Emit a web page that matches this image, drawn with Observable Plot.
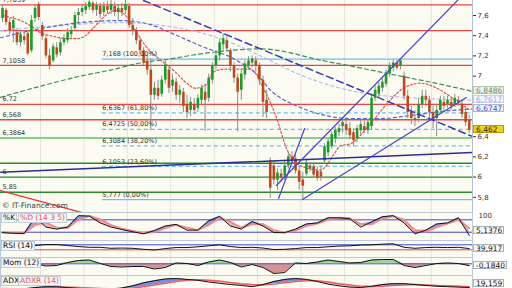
<!DOCTYPE html>
<html><head><meta charset="utf-8">
<script src="https://cdn.jsdelivr.net/npm/d3@7"></script>
<script src="https://cdn.jsdelivr.net/npm/@observablehq/plot@0.6"></script>
<style>
html,body{margin:0;padding:0;background:#fff;}
#chart{position:relative;width:512px;height:288px;overflow:hidden;font-family:"DejaVu Sans",Verdana,sans-serif;}
.pane{position:absolute;left:0;}
.pane svg{display:block;}
.tag{position:absolute;font-size:7.5px;line-height:8px;padding:0 1px;background:#f3f5f7;border:1px solid #c4ccd6;white-space:nowrap;color:#111;}
.vbox{position:absolute;left:473px;height:8px;font-size:7.5px;line-height:7px;padding-left:2px;box-sizing:border-box;border:1px solid #a8b0b8;background:#f6f7f8;color:#222;white-space:nowrap;}
.credit{position:absolute;left:2px;top:201px;font-size:7.5px;color:#444;white-space:nowrap;}
</style></head><body><div id="chart"></div>
<script>
// ---------- DATA ----------
const opens = [7.57,7.65,7.53,7.47,7.43,7.33,7.39,7.42,7.25,7.57,7.71,7.50,7.37,7.20,7.15,7.28,7.23,7.33,7.35,7.41,
7.47,7.60,7.63,7.65,7.68,7.72,7.65,7.69,7.63,7.69,7.65,7.69,7.63,7.67,7.65,7.69,7.50,7.45,7.35,7.25,
7.15,7.06,6.81,6.88,6.82,6.96,7.06,6.90,6.94,6.81,6.84,6.72,6.66,6.72,6.68,6.76,6.84,6.78,6.96,7.10,
7.20,7.31,7.35,7.25,7.10,6.98,6.86,7.01,7.10,7.13,7.15,7.10,6.96,6.76,6.16,6.11,5.97,6.03,6.01,6.11,
6.20,6.18,6.06,5.97,6.03,6.11,6.10,6.06,6.05,6.16,6.24,6.30,6.38,6.44,6.50,6.52,6.48,6.44,6.38,6.46,
6.50,6.46,6.50,6.78,6.82,6.88,6.92,7.02,7.08,7.13,7.10,7.00,6.80,6.64,6.58,6.58,6.72,6.80,6.76,6.64,
6.58,6.66,6.74,6.72,6.74,6.72,6.76,6.72,6.64,6.56];
const closes = [7.67,7.53,7.45,7.55,7.33,7.41,7.35,7.22,7.55,7.67,7.58,7.39,7.20,7.10,7.29,7.21,7.33,7.37,7.43,7.45,
7.60,7.63,7.67,7.69,7.73,7.65,7.70,7.61,7.69,7.65,7.71,7.63,7.67,7.63,7.71,7.50,7.45,7.35,7.25,7.13,
7.06,6.81,6.88,6.80,6.96,7.11,6.88,6.96,6.81,6.86,6.70,6.64,6.74,6.66,6.78,6.88,6.76,6.98,7.10,7.20,
7.33,7.37,7.27,7.10,6.98,6.84,7.02,7.12,7.15,7.17,7.10,6.96,6.74,6.64,5.89,5.97,6.04,5.99,6.11,6.20,
6.16,6.06,5.95,5.91,6.14,6.08,6.02,5.99,6.00,6.30,6.35,6.42,6.46,6.48,6.54,6.46,6.41,6.36,6.48,6.52,
6.46,6.54,6.78,6.86,6.90,6.94,7.02,7.10,7.13,7.08,7.15,6.80,6.64,6.58,6.56,6.72,6.80,6.76,6.64,6.56,
6.66,6.76,6.70,6.76,6.70,6.78,6.74,6.62,6.54,6.462];
const highs = [7.70,7.67,7.57,7.59,7.47,7.45,7.45,7.45,7.60,7.70,7.73,7.53,7.40,7.27,7.32,7.33,7.37,7.41,7.47,7.49,
7.63,7.67,7.70,7.73,7.75,7.74,7.73,7.72,7.73,7.74,7.75,7.73,7.71,7.72,7.75,7.72,7.57,7.48,7.38,7.28,
7.20,7.17,6.94,6.96,7.00,7.15,7.10,7.02,6.98,6.91,6.88,6.81,6.79,6.78,6.82,6.91,6.92,7.02,7.13,7.25,
7.37,7.42,7.39,7.27,7.13,7.02,7.06,7.15,7.19,7.20,7.19,7.13,7.00,6.86,6.19,6.16,6.08,6.08,6.16,6.24,
6.25,6.22,6.10,6.05,6.18,6.14,6.13,6.10,6.11,6.33,6.38,6.45,6.49,6.52,6.59,6.57,6.54,6.48,6.51,6.56,
6.55,6.57,6.82,6.90,6.94,6.98,7.06,7.13,7.16,7.15,7.168,7.04,6.86,6.70,6.66,6.78,6.86,6.86,6.80,6.70,
6.72,6.80,6.80,6.80,6.78,6.82,6.80,6.76,6.68,6.61];
const lows = [7.53,7.50,7.41,7.33,7.30,7.29,7.31,7.20,7.23,7.53,7.55,7.35,7.17,7.06,7.13,7.18,7.20,7.30,7.32,7.37,
7.45,7.51,7.59,7.61,7.65,7.62,7.59,7.57,7.59,7.61,7.61,7.59,7.55,7.59,7.61,7.47,7.40,7.31,7.21,7.10,
7.01,6.46,6.76,6.76,6.79,6.92,6.83,6.84,6.76,6.73,6.64,6.58,6.60,6.62,6.64,6.71,6.45,6.74,6.92,7.06,
7.15,7.25,7.23,7.04,6.93,6.45,6.76,6.96,7.06,7.08,7.04,6.91,6.59,6.58,5.79,5.92,5.87,5.95,5.97,6.08,
6.12,6.03,5.87,5.777,6.01,6.05,5.99,5.96,5.96,6.14,6.20,6.28,6.33,6.40,6.43,6.41,6.37,6.30,6.34,6.42,
6.43,6.42,6.46,6.75,6.79,6.84,6.89,6.99,7.04,7.06,7.06,6.76,6.58,6.52,6.50,6.54,6.68,6.70,6.58,6.48,
6.40,6.62,6.66,6.68,6.66,6.69,6.70,6.58,6.50,6.43];

// horizontal levels
const redLevels = [7.7059, 7.45, 7.1058, 6.72, 6.568];
const redLabels = ["7,7059", "", "7,1058", "6,72", "6,568"];
const greenLevels = [6.3864, 6.137, 6.0, 5.85];
const greenLabels = ["6,3864", "", "6", "5,85"];
const fibValues = [7.168, 6.6367, 6.4725, 6.3084, 6.1053, 5.777];
const fibLabels = ["7,168 (100,00%)", "6,6367 (61,80%)", "6,4725 (50,00%)", "6,3084 (38,20%)", "6,1053 (23,60%)", "5,777 (0,00%)"];
const fibStart = 27.6;

// moving averages (bar index, value)
const maGreenIdx = [-0.55, 10.5, 21.6, 29.9, 38.1, 46.4, 54.7, 61.6, 71.3, 79.6, 85.1, 96.2, 110, 121, 129.9];
const maGreenVal = [6.79, 6.90, 7.00, 7.06, 7.13, 7.17, 7.22, 7.25, 7.27, 7.23, 7.18, 7.10, 7.00, 6.92, 6.8486];
const maBlueIdx = [-0.55, 10.5, 21.6, 32.6, 40.9, 46.4, 54.7, 65, 70.5, 74.1, 81, 87.1, 96.2, 104.5, 112.8, 121.1, 129.9];
const maBlueVal = [7.38, 7.47, 7.53, 7.55, 7.51, 7.43, 7.30, 7.15, 7.01, 6.86, 6.71, 6.63, 6.58, 6.58, 6.61, 6.65, 6.6747];
const maLightIdx = [-0.55, 16, 32.6, 46.4, 60.3, 71.3, 82.4, 93.4, 104.5, 115.5, 129.9];
const maLightVal = [7.45, 7.50, 7.53, 7.49, 7.37, 7.20, 7.01, 6.88, 6.81, 6.78, 6.7617];
const maRedIdx = [0, 2.2, 5, 7.7, 10.5, 13.3, 16, 20.7, 22.9, 25.7, 28.5, 31.2, 34, 36.8, 39.5, 42.3, 45.1, 47.8, 50.6, 53.3,
  56.1, 58.3, 61.6, 65, 68.5, 72.1, 75.5, 78.8, 83.2, 87.9, 91.5, 93.4, 96.2, 101.7, 105.9, 110, 115.5, 121.1, 125.2, 129.3];
const maRedVal = [7.60, 7.58, 7.55, 7.50, 7.43, 7.40, 7.38, 7.37, 7.40, 7.50, 7.60, 7.65, 7.60, 7.45, 7.30, 7.20, 7.12, 7.04, 6.94, 6.88,
  6.91, 7.04, 7.07, 7.07, 7.07, 6.88, 6.61, 6.26, 6.10, 6.07, 6.22, 6.31, 6.33, 6.53, 6.71, 6.86, 6.93, 6.86, 6.76, 6.66];

// trendlines: [startIndex, startValue, endIndex, endValue]
const navyDashed = [38.97, 7.7485, 129.9, 6.402];
const blueUpper = [75.7, 5.917, 127.1, 7.798];
const blueLower = [82.9, 5.778, 128.2, 6.788];
const blueSteep = [76.3, 5.788, 83.5, 6.481];
const navyFlat = [-0.55, 6.048, 129.9, 6.243];
const redDown = [-0.55, 5.867, 27, 5.60];

// right-axis value boxes
const boxValues = [6.8486, 6.7617, 6.6747, 6.462];
const boxLabels = ["6,8486", "6,7617", "6,6747", "6,462"];

// price axis ticks
const yTicks = [5.8, 6, 6.2, 6.4, 7, 7.2, 7.4, 7.6];
// vertical grid positions (bar index)
const gridIdx = [10.5, 22.5, 34.5, 46.5, 58.5, 70.5, 82.5, 94.5, 106.5, 118.5];

// indicators sampled every 3 bars
const kVals = [18,15,14,92,45,35,45,100,98,65,45,33,22,12,28,50,58,30,30,75,97,50,35,72,50,18,18,35,60,65,90,90,85,45,70,95,100,65,12,30,60,65,90,5.1376];
const dVals = [20,16,15,55,68,42,40,80,99,82,55,38,27,17,20,40,55,42,30,55,88,70,42,58,60,30,18,28,50,62,80,90,88,60,58,85,98,80,30,22,45,62,80,40];
const rsiVals = [56,56,50,64,72,72,64,56,50,50,42,44,42,34,28,40,48,48,54,62,70,56,48,50,44,32,34,40,48,48,54,60,62,68,70,75,78,50,42,48,50,48,50,39.917];
const momVals = [0.03,0.05,0.13,0.03,-0.22,-0.17,0.13,0.33,0.38,0.03,-0.27,-0.32,-0.27,-0.27,-0.52,-0.37,0.08,0.03,-0.17,0.18,0.38,0.13,-0.32,-0.07,-0.37,-0.97,-0.87,0.08,0.03,0.18,0.38,0.23,0.08,0.13,0.38,0.43,0.43,-0.17,-0.37,-0.17,0.03,0.08,0.03,-0.184];
const adxVals = [15,15,16,19,21,21,19,17,16,15,15,18,23,30,35,39,40,38,36,32,29,26,24,21,26,33,38,40,38,33,27,23,20,19,22,26,28,28,26,24,22,21,20,19.159];
const adxrVals = [17,16,16,17,19,20,20,19,18,17,16,16,18,21,25,29,33,36,37,36,34,31,28,26,25,27,30,33,35,35,32,28,25,22,21,22,24,25,26,25,24,23,22,21];

// ---------- BUILD ----------
const chart = document.getElementById("chart");
const xDom = [-0.55, 129.9];
const fmt = d => String(d).replace(".", ",");
const common = {width: 512, marginLeft: 0, marginRight: 40, marginTop: 0, marginBottom: 0,
  style: {fontSize: "7px", fontFamily: "DejaVu Sans, sans-serif", color: "#333", background: "#fff"}};
const bg = "#fbfbf1";

const candles = opens.map((o, i) => ({i, o, c: closes[i], h: highs[i], l: lows[i]}));
const up = candles.filter(d => d.c >= d.o), down = candles.filter(d => d.c < d.o);
const pts = (xs, vs) => xs.map((x, k) => ({x, v: vs[k]}));
const seg = s => [{x: s[0], v: s[1]}, {x: s[2], v: s[3]}];
const redRows = redLevels.map((v, k) => ({v, t: redLabels[k]}));
const greenRows = greenLevels.map((v, k) => ({v, t: greenLabels[k]}));
const fibRows = fibValues.map((v, k) => ({v, t: fibLabels[k]}));

function place(svg, top) {
  const d = document.createElement("div");
  d.className = "pane"; d.style.top = top + "px";
  d.appendChild(svg); chart.appendChild(d);
}
function vbox(text, top, o) {
  const d = document.createElement("div");
  d.className = "vbox"; d.textContent = text;
  d.style.top = top + "px"; d.style.width = (o.w || 31) + "px";
  if (o.bg) d.style.background = o.bg;
  if (o.bd) d.style.borderColor = o.bd;
  if (o.c) d.style.color = o.c;
  chart.appendChild(d);
}
function tag(text, left, top, color) {
  const d = document.createElement("div");
  d.className = "tag"; d.textContent = text;
  d.style.left = left + "px"; d.style.top = top + "px";
  if (color) d.style.color = color;
  chart.appendChild(d);
}

const lineOpt = (stroke, extra) => Object.assign({x: "x", y: "v", stroke, clip: true}, extra);

const main = Plot.plot({
  ...common, height: 212,
  x: {domain: xDom, axis: null},
  y: {domain: [7.7485 - 212 / 101, 7.7485], axis: "right", ticks: yTicks, tickFormat: fmt, tickSize: 3, tickPadding: 2, label: null},
  marks: [
    Plot.frame({fill: bg, stroke: null}),
    Plot.ruleX(gridIdx, {stroke: "#e3e3db"}),
    Plot.ruleY(redRows, {y: "v", stroke: "#e84545", strokeWidth: 1.3}),
    Plot.ruleY(greenRows.slice(0, 1), {y: "v", stroke: "#8ccc8c", strokeWidth: 2}),
    Plot.ruleY(greenRows.slice(1), {y: "v", stroke: "#2b8a2b", strokeWidth: 1.3}),
    Plot.ruleY([fibRows[0], fibRows[5]], {y: "v", x1: fibStart, x2: xDom[1], stroke: "#6cc0ee", strokeWidth: 1.3}),
    Plot.ruleY(fibRows.slice(1, 5), {y: "v", x1: fibStart, x2: xDom[1], stroke: "#6cc0ee", strokeWidth: 1.3, strokeDasharray: "4,3"}),
    Plot.line(pts(maGreenIdx, maGreenVal), lineOpt("#3d8d5d", {strokeWidth: 1.2, strokeDasharray: "4,3", curve: "monotone-x"})),
    Plot.line(pts(maLightIdx, maLightVal), lineOpt("#b4bbee", {strokeWidth: 1.2, strokeDasharray: "3,3", curve: "monotone-x"})),
    Plot.line(pts(maBlueIdx, maBlueVal), lineOpt("#5563d0", {strokeWidth: 1.2, strokeDasharray: "3,3", curve: "monotone-x"})),
    Plot.line(pts(maRedIdx, maRedVal), lineOpt("#e45050", {strokeWidth: 1.2, strokeDasharray: "2,2", curve: "monotone-x"})),
    Plot.ruleX(candles, {x: "i", y1: "l", y2: "h", stroke: "#8c8c8c", strokeWidth: 1, clip: true}),
    Plot.ruleX(up, {x: "i", y1: "o", y2: "c", stroke: "#1f9a2a", strokeWidth: 2.6, clip: true}),
    Plot.ruleX(down, {x: "i", y1: "o", y2: "c", stroke: "#b94a22", strokeWidth: 2.6, clip: true}),
    Plot.line(seg(navyFlat), lineOpt("#2c2c9a", {strokeWidth: 1.5})),
    Plot.line(seg(navyDashed), lineOpt("#3b3bb5", {strokeWidth: 1.5, strokeDasharray: "7,4"})),
    Plot.line(seg(blueUpper), lineOpt("#4646c8", {strokeWidth: 1.2})),
    Plot.line(seg(blueLower), lineOpt("#4646c8", {strokeWidth: 1.2})),
    Plot.line(seg(blueSteep), lineOpt("#4646c8", {strokeWidth: 1.2})),
    Plot.line(seg(redDown), lineOpt("#e03a3a", {strokeWidth: 1.3})),
    Plot.text(redRows.concat(greenRows).filter(d => d.t), {x: xDom[0], y: "v", text: "t", dx: 2, dy: -5, textAnchor: "start", fontSize: 6.5, fill: "#333"}),
    Plot.text(fibRows, {x: fibStart, y: "v", text: "t", dx: 0, dy: -5, textAnchor: "start", fontSize: 6.5, fill: "#333"}),
    Plot.ruleX([xDom[1]], {stroke: "#b4c0cc"})
  ]
});
place(main, 0);
const ys = main.scale("y");
const boxStyles = [
  {bg: "#eef3ea", bd: "#b6c6b0", c: "#6d8f6d"},
  {bg: "#f6f6fd", bd: "#cacaea", c: "#a4a4e4"},
  {bg: "#eef0fb", bd: "#aeb6e0", c: "#4454c2"},
  {bg: "#f3d21c", bd: "#b8980c", c: "#222"}
];
boxValues.forEach((v, k) => vbox(boxLabels[k], ys.apply(v) - 4.5, boxStyles[k]));

// credit
const cr = document.createElement("div"); cr.className = "credit"; cr.textContent = "© IT-Finance.com"; chart.appendChild(cr);

// sub panels
const subIdx = d3.range(0, 130, 3);
function sub(h, dom, marks, yOpt) {
  return Plot.plot({
    ...common, height: h,
    x: {domain: xDom, axis: null},
    y: Object.assign({domain: dom, axis: null}, yOpt || {}),
    marks: [Plot.frame({fill: bg, stroke: null}), Plot.ruleX(gridIdx, {stroke: "#e3e3db"}), ...marks,
      Plot.frame({stroke: "#bccad8"})]
  });
}
const clampY = (y, lo, hi) => Math.max(lo, Math.min(hi, y));

// Stochastic
const kRows = subIdx.map((x, j) => ({x, k: kVals[j], d: dVals[j]}));
const kp = sub(28, [-20, 115.5], [
  Plot.areaY(kRows, {x: "x", y1: "d", y2: r => Math.max(r.k, r.d), fill: "#6f7fe0", fillOpacity: 0.75, clip: true}),
  Plot.areaY(kRows, {x: "x", y1: "k", y2: r => Math.max(r.k, r.d), fill: "#f2a2a2", fillOpacity: 0.85, clip: true}),
  Plot.ruleY([80, 20], {stroke: "#4545d2"}),
  Plot.line(kRows, {x: "x", y: "d", stroke: "#f08888", strokeWidth: 1.8, clip: true}),
  Plot.line(kRows, {x: "x", y: "k", stroke: "#111", strokeWidth: 1, clip: true})
], {axis: "right", ticks: [100], tickSize: 0, tickPadding: 6, tickFormat: d => String(d), label: null});
place(kp, 212);
vbox("5,1376", 212 + clampY(kp.scale("y").apply(kVals[kVals.length - 1]), 5, 18) - 4, {w: 31});

// RSI
const rsiRows = subIdx.map((x, j) => ({x, v: rsiVals[j]}));
const rp = sub(17, [-31.6, 104.4], [
  Plot.ruleY([70], {stroke: "#4545d2"}),
  Plot.ruleY([30], {stroke: "#e04545"}),
  Plot.line(rsiRows, {x: "x", y: "v", stroke: "#111", strokeWidth: 1, clip: true})
]);
place(rp, 240);
vbox("39,917", 240 + rp.scale("y").apply(rsiVals[rsiVals.length - 1]) - 4, {w: 31});

// Momentum
const momRows = subIdx.map((x, j) => ({x, v: momVals[j]}));
const mp = sub(18, [-1.17, 0.63], [
  Plot.areaY(momRows, {x: "x", y1: 0, y2: r => Math.max(r.v, 0), fill: "#9fd39f", clip: true}),
  Plot.areaY(momRows, {x: "x", y1: 0, y2: r => Math.min(r.v, 0), fill: "#d99292", clip: true}),
  Plot.ruleY([0], {stroke: "#5050d8"}),
  Plot.line(momRows, {x: "x", y: "v", stroke: "#111", strokeWidth: 1, clip: true})
]);
place(mp, 257);
vbox("-0,1840", 257 + mp.scale("y").apply(momVals[momVals.length - 1]) - 4.5, {w: 34});

// ADX
const adxRows = subIdx.map((x, j) => ({x, a: adxVals[j], r: adxrVals[j]}));
const ap = sub(13, [16.8, 47.1], [
  Plot.areaY(adxRows, {x: "x", y1: "r", y2: d => Math.max(d.a, d.r), fill: "#7f8fd8", clip: true}),
  Plot.areaY(adxRows, {x: "x", y1: "a", y2: d => Math.max(d.a, d.r), fill: "#f0b2b2", clip: true}),
  Plot.line(adxRows, {x: "x", y: "r", stroke: "#e86060", strokeWidth: 1.5, clip: true}),
  Plot.line(adxRows, {x: "x", y: "a", stroke: "#111", strokeWidth: 1, clip: true})
]);
place(ap, 275);
vbox("19,159", 275 + clampY(ap.scale("y").apply(adxVals[adxVals.length - 1]), 4, 7.5) - 4, {w: 31});

// panel tags
tag("%K", 1, 213);
tag("%D (14 3 5)", 18, 213, "#e05555");
tag("RSI (14)", 1, 241);
tag("Mom (12)", 1, 258);
tag("ADX", 1, 276);
tag("ADXR (14)", 18, 276, "#e05555");
</script></body></html>
